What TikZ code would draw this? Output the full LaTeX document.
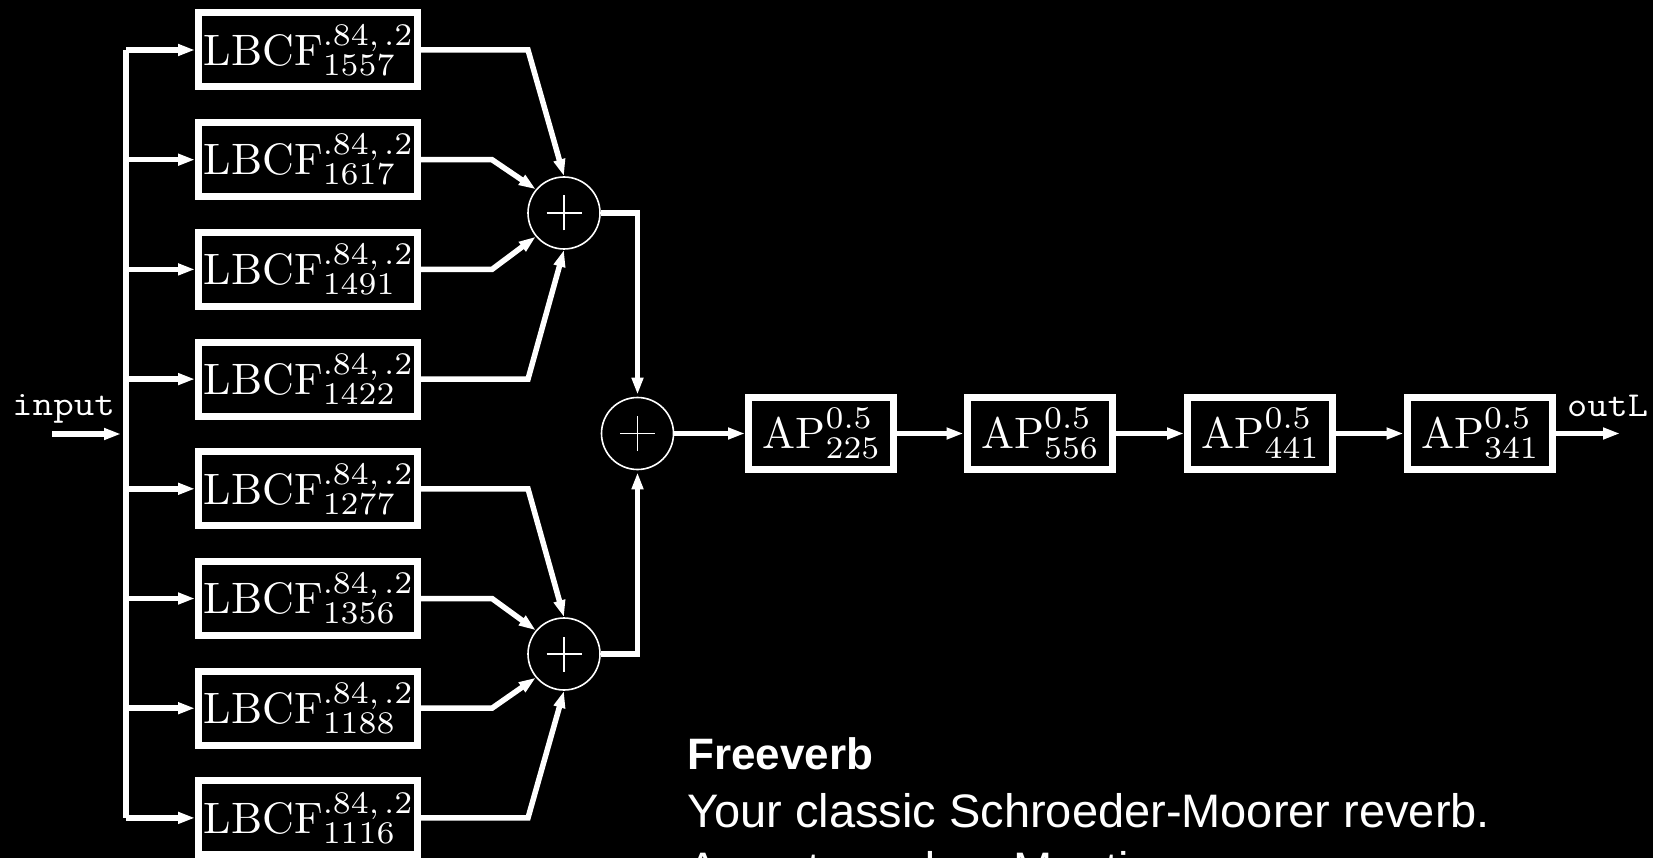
\documentclass[tikz,border=0pt]{standalone}
\usepackage{fontspec}
\newfontfamily\robo{Liberation Sans}
\newfontfamily\cmten{lmroman10-regular.otf}
\newfontfamily\cmseven{lmroman7-regular.otf}
\usetikzlibrary{arrows.meta,calc}
\newcommand\supsub[2]{{\cmseven\fontsize{31.5}{32}\selectfont\setbox0\hbox{#1}\setbox2\hbox{#2}%
  \ifdim\wd0>\wd2 \dimen0=\wd0 \else \dimen0=\wd2 \fi
  \hbox to\dimen0{\rlap{\raise20pt\box0}\lower10pt\box2\hfil}}}
\tikzset{
  wire/.style={draw=white, line width=5.5pt},
  arr/.style={wire, -{Triangle[length=17pt,width=11pt]}},
  lbcf/.style={draw=white, line width=7pt, minimum width=219pt, minimum height=74pt,
    inner sep=0pt, text=white, font=\cmten\fontsize{44}{48}\selectfont},
  apbox/.style={draw=white, line width=7pt, minimum width=145pt, minimum height=72pt,
    inner sep=0pt, text=white, font=\cmten\fontsize{44}{48}\selectfont},
  summer/.style={circle, draw=white, line width=1.6pt, minimum size=72pt, inner sep=0pt},
  plusline/.style={draw=white, line width=1.4pt},
  ttlbl/.style={text=white, inner sep=0pt, font=\fontsize{35}{38}\selectfont\ttfamily},
  captxt/.style={text=white, inner sep=0pt, anchor=base west},
}
\begin{document}
\begin{tikzpicture}[x=1pt,y=-1pt]
\fill[black] (0,0) rectangle (1653,858);
\useasboundingbox (0,0) rectangle (1653,858);

% bend / bus reference x positions
\coordinate (busx) at (126,0);
\coordinate (bendA) at (528,0);
\coordinate (bendB) at (492,0);

% comb filters
\foreach \i/\d in {1/1557,2/1617,3/1491,4/1422,5/1277,6/1356,7/1188,8/1116}{
  \node[lbcf] (b\i) at (308,{50+(\i-1)*109.7}) {\raisebox{-2pt}{LBCF\supsub{.84,\,.2}{\d}}};
}

% summers
\node[summer] (s1) at (564,213) {};
\node[summer] (s2) at (564,654) {};
\node[summer] (s3) at (637.5,433.5) {};
\foreach \s in {s1,s2,s3}{
  \draw[plusline] ([xshift=-17.5pt]\s.center) -- ([xshift=17.5pt]\s.center);
  \draw[plusline] ([yshift=-17.5pt]\s.center) -- ([yshift=17.5pt]\s.center);
}

% allpass chain
\node[apbox] (a1) at (821,433.5) {AP\supsub{0.5}{225}};
\node[apbox] (a2) at (1039.5,433.5) {AP\supsub{0.5}{556}};
\node[apbox] (a3) at (1260,433.5) {AP\supsub{0.5}{441}};
\node[apbox] (a4) at (1479.5,433.5) {AP\supsub{0.5}{341}};

% input
\node[ttlbl, anchor=base west] (inlbl) at (12,415) {\scalebox{1.14}[1]{input}};
\coordinate (inp) at (52,434);
\draw[arr, shorten >=5pt] (inp) -- (inp -| busx);

% bus
\draw[wire] (b1.west -| busx) -- (b8.west -| busx);
\foreach \i in {1,...,8}{
  \draw[arr] (b\i.west -| busx) -- (b\i.west);
}

% comb outputs to summers
\draw[arr] (b1.east) -- (b1.east -| bendA) -- (s1.north);
\draw[arr] (b2.east) -- (b2.east -| bendB) -- (s1.140);
\draw[arr] (b3.east) -- (b3.east -| bendB) -- (s1.220);
\draw[arr] (b4.east) -- (b4.east -| bendA) -- (s1.south);
\draw[arr] (b5.east) -- (b5.east -| bendA) -- (s2.north);
\draw[arr] (b6.east) -- (b6.east -| bendB) -- (s2.140);
\draw[arr] (b7.east) -- (b7.east -| bendB) -- (s2.220);
\draw[arr] (b8.east) -- (b8.east -| bendA) -- (s2.south);

% summers to final summer
\draw[arr, shorten >=2pt] (s1.east) -| (s3.north);
\draw[arr, shorten >=2pt] (s2.east) -| (s3.south);

% chain
\draw[arr] (s3.east) -- (a1.west);
\draw[arr] (a1.east) -- (a2.west);
\draw[arr] (a2.east) -- (a3.west);
\draw[arr] (a3.east) -- (a4.west);
\coordinate (outp) at (1620,433.5);
\draw[arr] (a4.east) -- (outp);
\node[ttlbl, anchor=base west] (outlbl) at (1567,416) {\scalebox{1.12}[1]{outL}};

% caption
\node[captxt, font=\fontsize{44}{50}\selectfont\robo\bfseries] (cap1) at (687,769) {Freeverb};
\node[captxt, font=\fontsize{47}{54}\selectfont\robo] (cap2) at (687,827) {Your classic Schroeder-Moorer reverb.};
\node[captxt, font=\fontsize{47}{54}\selectfont\robo] (cap3) at (687,885) {As not used on Mantic};
\end{tikzpicture}
\end{document}
